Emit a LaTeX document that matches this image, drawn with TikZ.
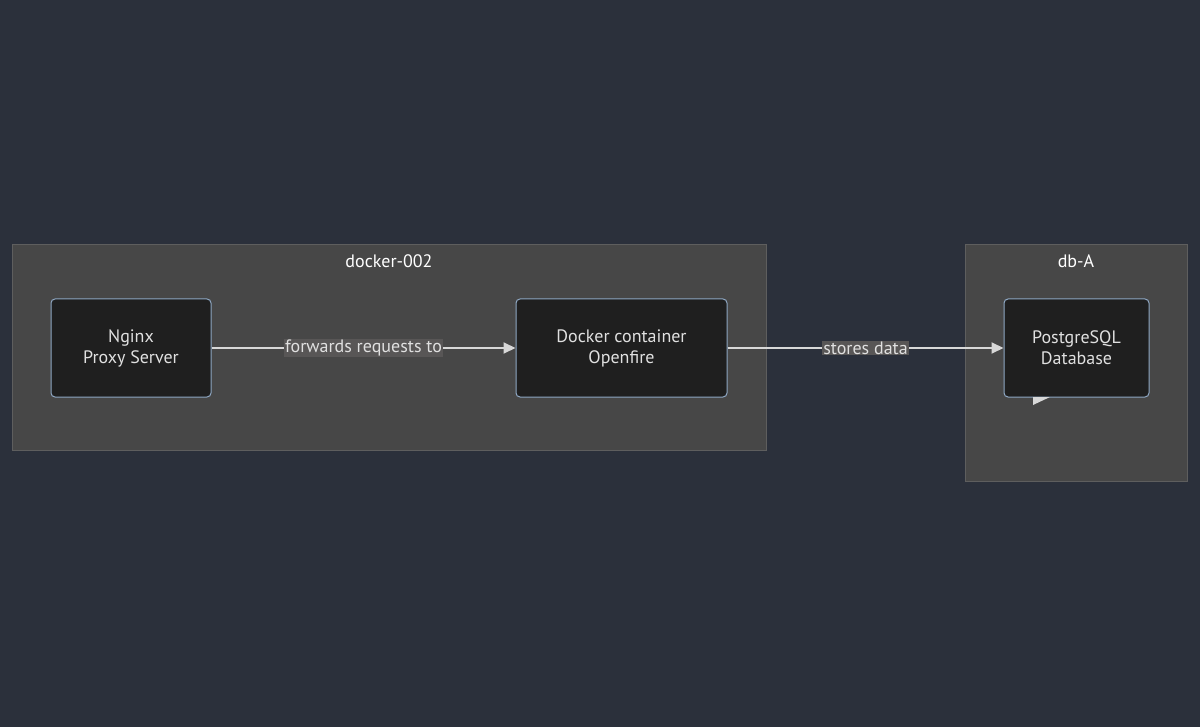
\documentclass[tikz,border=0pt]{standalone}
\usepackage{fontspec}
\setmainfont{PT Sans}
\usetikzlibrary{arrows.meta}
\definecolor{bgc}{HTML}{2B303B}
\definecolor{clf}{HTML}{474747}
\definecolor{clb}{HTML}{5E5E5E}
\definecolor{ndf}{HTML}{1F1F1F}
\definecolor{ndb}{HTML}{8FA8C4}
\definecolor{txt}{HTML}{E0E0E0}
\definecolor{lbf}{HTML}{585656}
\definecolor{edg}{HTML}{D8D8D8}
\tikzset{
  cluster/.style={draw=clb, fill=clf, line width=1pt},
  nodebox/.style={draw=ndb, fill=ndf, rounded corners=4pt, line width=1pt, align=center, text=txt, font=\fontsize{18}{21}\selectfont, inner sep=0pt},
  elabel/.style={fill=lbf, text=txt, font=\fontsize{18}{21}\selectfont, inner sep=1pt},
  conn/.style={draw=edg, line width=2pt, -{Triangle[length=12pt,width=11pt]}},
  ctitle/.style={text=white, font=\fontsize{18}{21}\selectfont}
}
\begin{document}
\begin{tikzpicture}[x=1pt,y=-1pt]
\fill[bgc] (0,0) rectangle (1200,727);
\useasboundingbox (0,0) rectangle (1200,727);
\draw[cluster] (12,245) rectangle (766,450);
\draw[cluster] (965,245) rectangle (1187,481);
\node[ctitle] (t1) at (389,261) {docker-002};
\node[ctitle] (t2) at (1076,261) {db-A};
\node[nodebox, minimum width=160pt, minimum height=98pt] (ng) at (131,348) {Nginx\\Proxy Server};
\node[nodebox, minimum width=211pt, minimum height=98pt] (dc) at (621.5,348) {Docker container\\Openfire};
\node[nodebox, minimum width=145pt, minimum height=98pt] (pg) at (1076.5,348) {PostgreSQL\\Database};
\draw[conn] (ng.east) -- node[elabel] {forwards requests to} (dc.east -| dc.west);
\draw[conn] (dc.east) -- node[elabel] {stores data} (pg.west);
\coordinate (tipa) at (1033,397);
\fill[edg] (1033,397) -- (1050,397) -- (1033,405) -- cycle;
\end{tikzpicture}
\end{document}
